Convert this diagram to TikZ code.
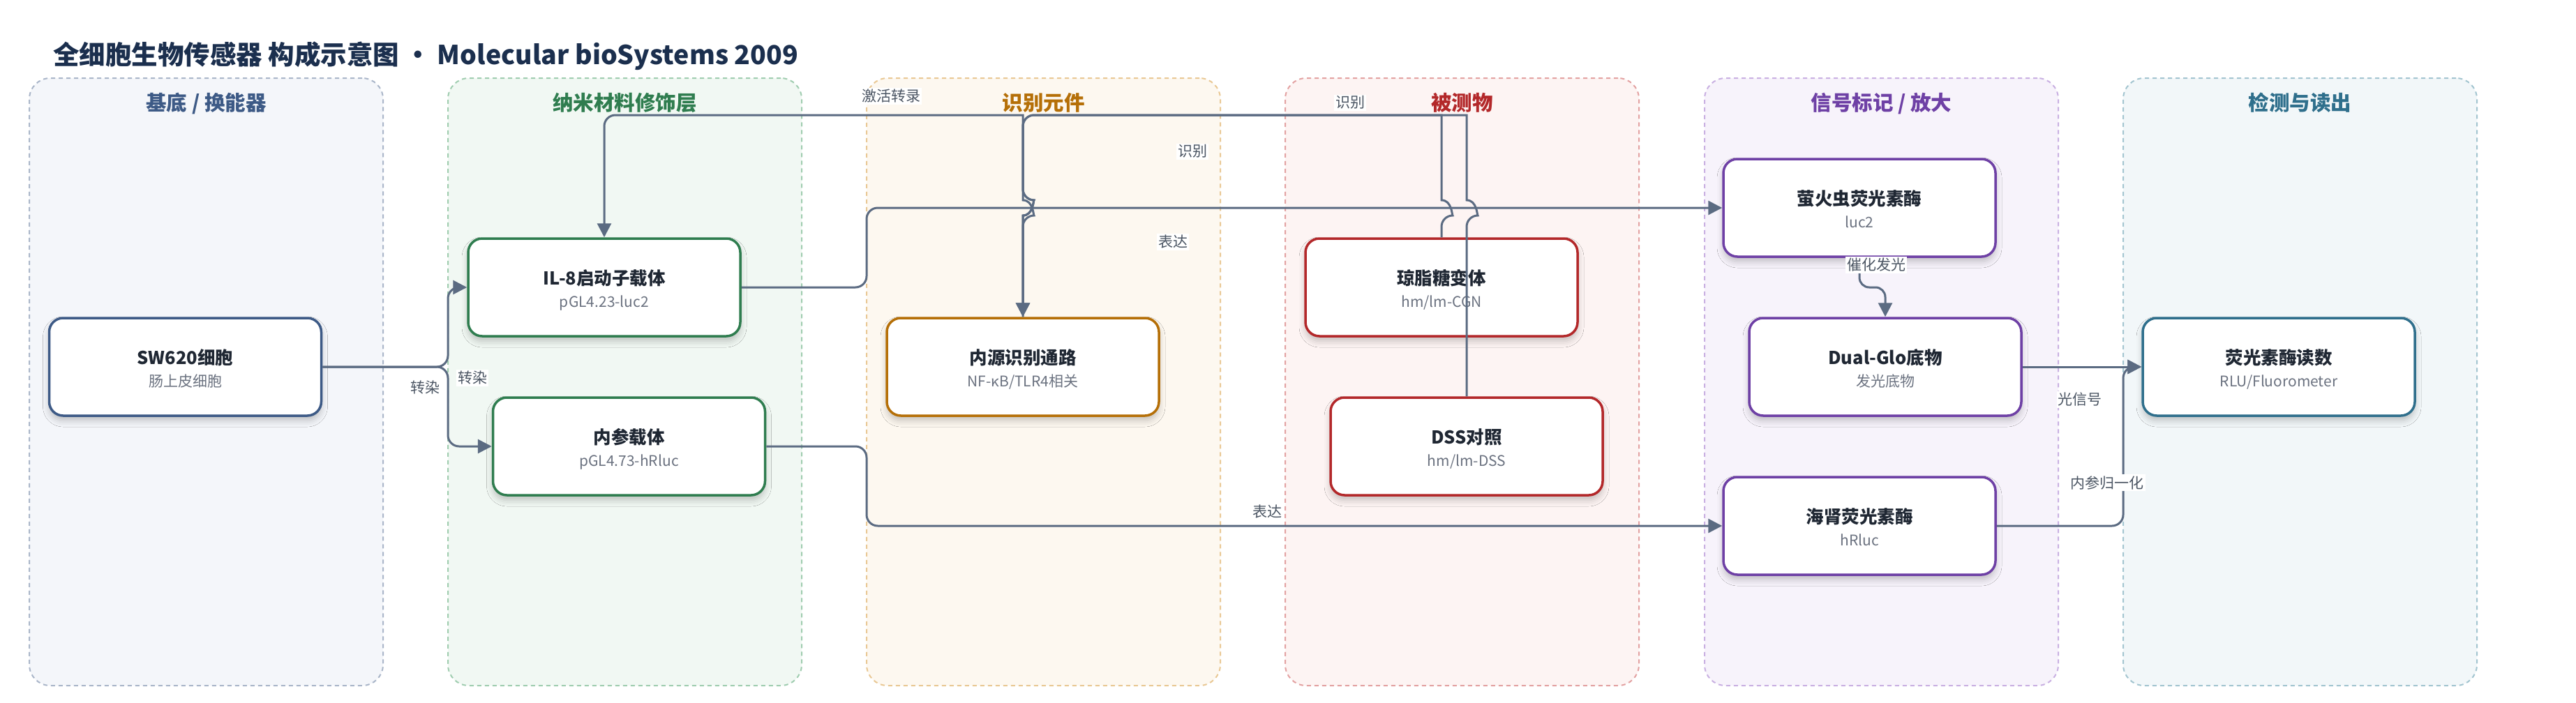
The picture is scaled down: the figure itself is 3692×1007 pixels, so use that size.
\documentclass[tikz,border=0pt]{standalone}
\usepackage{fontspec}
\setmainfont{Noto Sans CJK SC}
\usetikzlibrary{arrows.meta,calc,shadows.blur}

\definecolor{titlec}{HTML}{1B2F4E}
\definecolor{ink}{HTML}{1F2733}
\definecolor{subgray}{HTML}{6B7280}
\definecolor{lblgray}{HTML}{4B5563}
\definecolor{edge}{HTML}{5B6B82}
% lane fills / borders / title colours
\definecolor{laAf}{HTML}{F4F6FA}\definecolor{laAb}{HTML}{AAB6C9}\definecolor{laAt}{HTML}{3D5A86}
\definecolor{laBf}{HTML}{F1F8F3}\definecolor{laBb}{HTML}{A0CDB0}\definecolor{laBt}{HTML}{2F7D4F}
\definecolor{laCf}{HTML}{FDF8F0}\definecolor{laCb}{HTML}{E9C894}\definecolor{laCt}{HTML}{B56F07}
\definecolor{laDf}{HTML}{FDF4F3}\definecolor{laDb}{HTML}{E3A2A2}\definecolor{laDt}{HTML}{B3282A}
\definecolor{laEf}{HTML}{F7F3FB}\definecolor{laEb}{HTML}{C9B0E2}\definecolor{laEt}{HTML}{6E40A5}
\definecolor{laFf}{HTML}{F2F7F9}\definecolor{laFb}{HTML}{A3C5D0}\definecolor{laFt}{HTML}{2F6F8C}

\tikzset{
  lanebox/.style={rectangle, rounded corners=30pt, dash pattern=on 6pt off 5pt, line width=2pt,
    minimum width=507pt, minimum height=871pt, inner sep=0pt},
  box/.style={rectangle, rounded corners=20pt, minimum width=390pt, minimum height=140pt,
    fill=white, line width=3.5pt, inner sep=0pt,
    blur shadow={shadow xshift=0pt, shadow yshift=-7pt, shadow blur radius=9pt, shadow opacity=22}},
  ttl/.style={anchor=base, inner sep=0pt, font=\fontsize{25.5}{30}\selectfont\bfseries, text=ink},
  subt/.style={anchor=base, inner sep=0pt, font=\fontsize{21}{25}\selectfont, text=subgray},
  hdr/.style={anchor=base, inner sep=0pt, font=\fontsize{29.5}{34}\selectfont\bfseries},
  conn/.style={draw=edge, line width=3pt, rounded corners=16pt, -{Triangle[length=20pt,width=20pt]}},
  lbl/.style={fill=white, inner sep=2pt, text=lblgray, font=\fontsize{21}{25}\selectfont},
}

\newcommand\mkbox[6]{%
  \node[box, draw=#4] (#1) at (#2,#3) {};
  \node[ttl] (#1-t) at (#2,#3-4) {#5};
  \node[subt] (#1-s) at (#2,#3+28) {#6};
}

\begin{document}
\begin{tikzpicture}[x=1pt,y=-1pt]
\useasboundingbox (0,0) rectangle (3692,1007);
\fill[white] (0,0) rectangle (3692,1007);

% title
\node[anchor=base west, inner sep=0pt, font=\fontsize{37.5}{44}\selectfont\bfseries, text=titlec] (title) at (76,92)
  {全细胞生物传感器 构成示意图 · Molecular bioSystems 2009};

% lanes
\node[lanebox, draw=laAb, fill=laAf] (laneA) at (295.5,547.5) {};
\node[lanebox, draw=laBb, fill=laBf] (laneB) at (895.5,547.5) {};
\node[lanebox, draw=laCb, fill=laCf] (laneC) at (1495.5,547.5) {};
\node[lanebox, draw=laDb, fill=laDf] (laneD) at (2095.5,547.5) {};
\node[lanebox, draw=laEb, fill=laEf] (laneE) at (2696.5,547.5) {};
\node[lanebox, draw=laFb, fill=laFf] (laneF) at (3296.5,547.5) {};

\node[hdr, text=laAt] (hA) at (295.5,158) {基底 / 换能器};
\node[hdr, text=laBt] (hB) at (895.5,158) {纳米材料修饰层};
\node[hdr, text=laCt] (hC) at (1495.5,158) {识别元件};
\node[hdr, text=laDt] (hD) at (2095.5,158) {被测物};
\node[hdr, text=laEt] (hE) at (2696.5,158) {信号标记 / 放大};
\node[hdr, text=laFt] (hF) at (3296.5,158) {检测与读出};

% nodes
\mkbox{sw}{265.5}{526}{laAt}{SW620细胞}{肠上皮细胞}
\mkbox{ilp}{866}{412}{laBt}{IL-8启动子载体}{pGL4.23-luc2}
\mkbox{ref}{901.5}{640}{laBt}{内参载体}{pGL4.73-hRluc}
\mkbox{endo}{1466}{526}{laCt}{内源识别通路}{NF-κB/TLR4相关}
\mkbox{agar}{2066}{412}{laDt}{琼脂糖变体}{hm/lm-CGN}
\mkbox{dss}{2102}{640}{laDt}{DSS对照}{hm/lm-DSS}
\mkbox{fluc}{2665}{298}{laEt}{萤火虫荧光素酶}{luc2}
\mkbox{dual}{2702}{526}{laEt}{Dual-Glo底物}{发光底物}
\mkbox{rluc}{2665}{754}{laEt}{海肾荧光素酶}{hRluc}
\mkbox{read}{3266}{526}{laFt}{荧光素酶读数}{RLU/Fluorometer}

% connectors
\draw[conn] (sw.east) -- (642,526) -- (642,412) -- (ilp.west);
\draw[conn] (sw.east) -- (642,526) -- (642,640) -- (ref.west);
\draw[conn] (ilp.east) -- (1242,412) -- (1242,298) -- (fluc.west);
\draw[conn] (ref.east) -- (1242,640) -- (1242,754) -- (rluc.west);

\draw[conn] (endo.north) -- (1466,309) [sharp corners]
  .. controls (1481,309) and (1481,287) .. (1466,287) -- (1466,165)
  [rounded corners=16pt] -- (866,165) -- (ilp.north);
\draw[conn] (agar.north) -- (2066,309) [sharp corners]
  .. controls (2081,309) and (2081,287) .. (2066,287) -- (2066,165)
  [rounded corners=16pt] -- (1466,165) -- (1466,287) [sharp corners]
  .. controls (1481,287) and (1481,309) .. (1466,309) -- (endo.north);
\draw[conn] (dss.north) -- (2102,309) [sharp corners]
  .. controls (2117,309) and (2117,287) .. (2102,287) -- (2102,165)
  [rounded corners=16pt] -- (1466,165) -- (1466,287) [sharp corners]
  .. controls (1481,287) and (1481,309) .. (1466,309) -- (endo.north);

\draw[conn, rounded corners=14pt] (fluc.south) -- (2665,412) -- (2702,412) -- (dual.north);
\draw[conn] (dual.east) -- (read.west);
\draw[conn] (rluc.east) -- (3043,754) -- (3043,526) -- (read.west);

% labels
\node[lbl] (l1) at (609,556) {转染};
\node[lbl] (l2) at (677,542) {转染};
\node[lbl] (l3) at (1681,347) {表达};
\node[lbl] (l4) at (1816,733) {表达};
\node[lbl] (l5) at (1277,138) {激活转录};
\node[lbl] (l6) at (1709,217) {识别};
\node[lbl] (l7) at (1935,147) {识别};
\node[lbl] (l8) at (2689,380) {催化发光};
\node[lbl] (l9) at (2981,573) {光信号};
\node[lbl] (l10) at (3020,692) {内参归一化};
\end{tikzpicture}
\end{document}
